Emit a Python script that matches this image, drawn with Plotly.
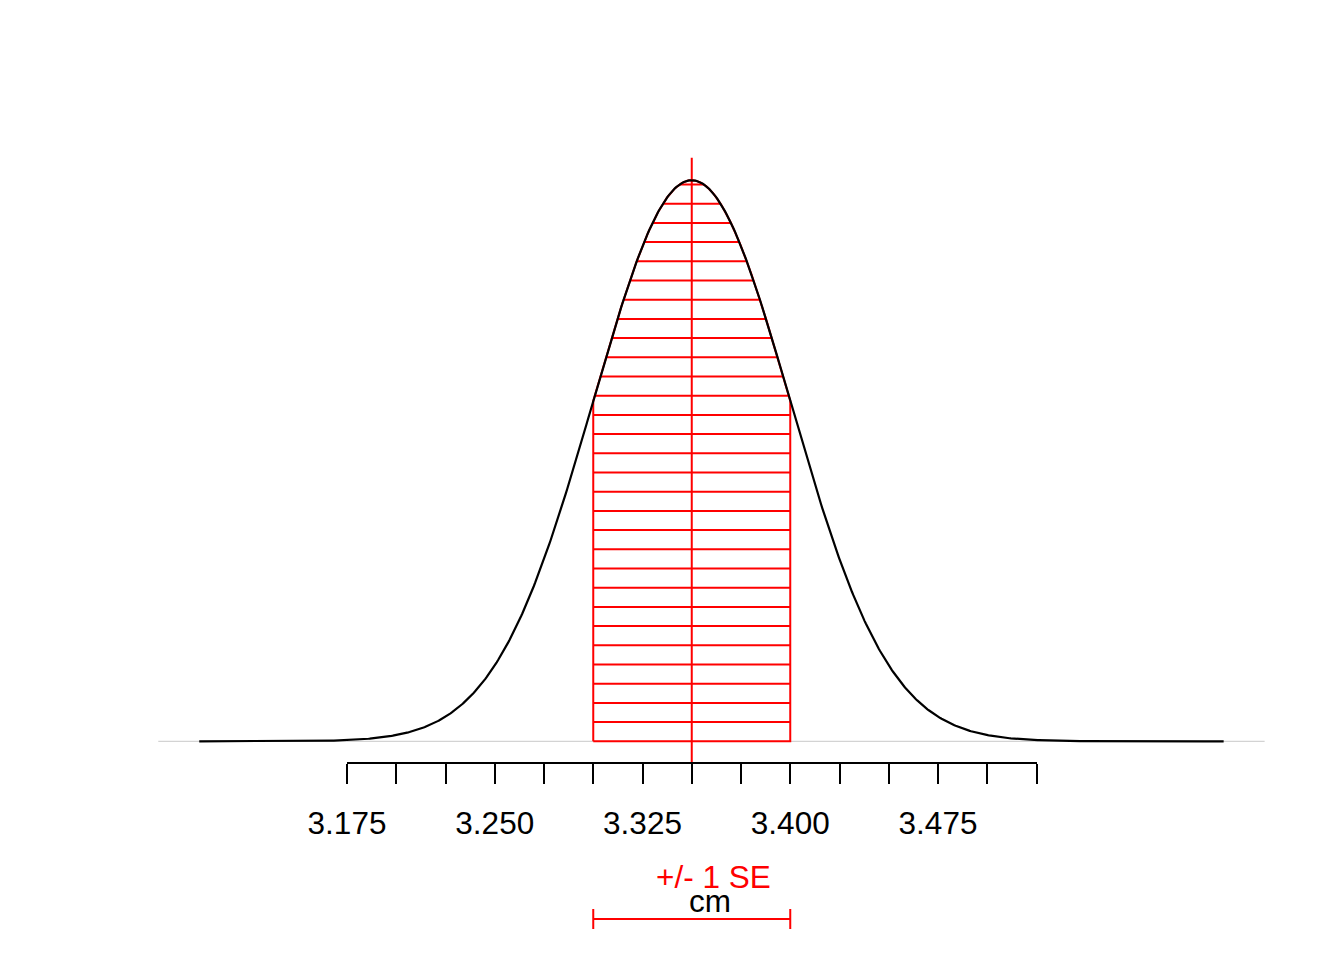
import numpy as np
import plotly.graph_objects as go

# ---- data ----
MEAN = 3.35
SE = 0.05
CURVE_FROM = 3.10
CURVE_TO = 3.62
TICK_VALUES = [3.175, 3.200, 3.225, 3.250, 3.275, 3.300, 3.325, 3.350,
               3.375, 3.400, 3.425, 3.450, 3.475, 3.500, 3.525]
TICK_LABELS = ["3.175", "", "", "3.250", "", "", "3.325", "",
               "", "3.400", "", "", "3.475", "", ""]
X_LABEL = "cm"
SE_LABEL = "+/- 1 SE"

# ---- layout helpers (pixel geometry of the figure) ----
W, H = 1344, 960
PXX = 1970.0          # pixels per x unit
X_REF, X_REF_PX = 3.175, 347.0
PXY = 70.32           # pixels per density unit
Y0_PX = 741.3         # pixel row of density 0
AXIS_PX = 763.3
FONT = "Liberation Sans, Arial, sans-serif"
RED = "#FF0000"


def px2x(p):
    return X_REF + (p - X_REF_PX) / PXX


def px2y(p):
    return (Y0_PX - p) / PXY


def pdf(x):
    return np.exp(-0.5 * ((x - MEAN) / SE) ** 2) / (SE * np.sqrt(2 * np.pi))


peak = pdf(MEAN)
ext = 0.04 * (CURVE_TO - CURVE_FROM)

fig = go.Figure()

# baseline (abline h=0 across plot region)
fig.add_trace(go.Scatter(x=[CURVE_FROM - ext, CURVE_TO + ext], y=[0, 0], mode="lines",
                         line=dict(color="#d3d3d3", width=1.2), hoverinfo="skip"))

# shaded +/- 1 SE polygon outline
lo, hi = MEAN - SE, MEAN + SE
xs_poly = np.linspace(lo, hi, 200)
px_poly = np.concatenate([[lo], xs_poly, [hi, lo]])
py_poly = np.concatenate([[0], pdf(xs_poly), [0, 0]])
fig.add_trace(go.Scatter(x=px_poly, y=py_poly, mode="lines",
                         line=dict(color=RED, width=2), hoverinfo="skip"))

# hatching lines (10 per inch -> 19.2 px spacing)
hatch_step = 19.2 / PXY
hx, hy = [], []
lvl = hatch_step
while lvl < peak:
    half = SE * np.sqrt(-2 * np.log(lvl / peak))
    a = max(lo, MEAN - half)
    b = min(hi, MEAN + half)
    hx += [a, b, None]
    hy += [lvl, lvl, None]
    lvl += hatch_step
fig.add_trace(go.Scatter(x=hx, y=hy, mode="lines",
                         line=dict(color=RED, width=2), hoverinfo="skip"))

# mean line across plot region
fig.add_trace(go.Scatter(x=[MEAN, MEAN], y=[-0.04 * peak, 1.04 * peak], mode="lines",
                         line=dict(color=RED, width=2), hoverinfo="skip"))

# density curve
xs = np.linspace(CURVE_FROM, CURVE_TO, 800)
fig.add_trace(go.Scatter(x=xs, y=pdf(xs), mode="lines",
                         line=dict(color="black", width=2.2), hoverinfo="skip"))

# SE bar
ybar = px2y(919)
ytk = 10 / PXY
fig.add_trace(go.Scatter(x=[lo, hi, None, lo, lo, None, hi, hi],
                         y=[ybar, ybar, None, ybar - ytk, ybar + ytk, None, ybar - ytk, ybar + ytk],
                         mode="lines", line=dict(color=RED, width=2), hoverinfo="skip"))

# invisible trace for the visible axis
fig.add_trace(go.Scatter(x=[TICK_VALUES[0], TICK_VALUES[-1]], y=[0, 0], xaxis="x2", yaxis="y2",
                         mode="markers", marker=dict(opacity=0), hoverinfo="skip"))

fig.add_annotation(x=px2x(713.7), y=px2y(877), text=SE_LABEL, showarrow=False,
                   xanchor="center", yanchor="middle",
                   font=dict(family=FONT, size=31.5, color=RED))
fig.add_annotation(x=px2x(710), y=px2y(901), text=X_LABEL, showarrow=False,
                   xanchor="center", yanchor="middle",
                   font=dict(family=FONT, size=31.5, color="black"))

fig.update_layout(
    width=W, height=H,
    margin=dict(l=0, r=0, t=0, b=0, pad=0, autoexpand=False),
    paper_bgcolor="white", plot_bgcolor="rgba(0,0,0,0)",
    showlegend=False,
    xaxis=dict(range=[px2x(0), px2x(W)], visible=False, domain=[0, 1], automargin=False),
    yaxis=dict(range=[px2y(H), px2y(0)], visible=False, domain=[0, 1], automargin=False),
    xaxis2=dict(domain=[X_REF_PX / W, (X_REF_PX + (TICK_VALUES[-1] - TICK_VALUES[0]) * PXX) / W],
                range=[TICK_VALUES[0], TICK_VALUES[-1]], anchor="free", position=1 - AXIS_PX / H,
                showline=True, linecolor="black", linewidth=2, ticks="outside", ticklen=20,
                tickwidth=2, tickcolor="black", tickvals=TICK_VALUES, ticktext=TICK_LABELS,
                tickfont=dict(family=FONT, size=31.5, color="black"), showgrid=False,
                zeroline=False, ticklabelstandoff=12, automargin=False),
    yaxis2=dict(domain=[0, 1], range=[0, 1], visible=False, anchor="x2", automargin=False),
)

fig.write_html("out.html", config={"displayModeBar": False},
               post_script="document.body.style.margin='0px';")
